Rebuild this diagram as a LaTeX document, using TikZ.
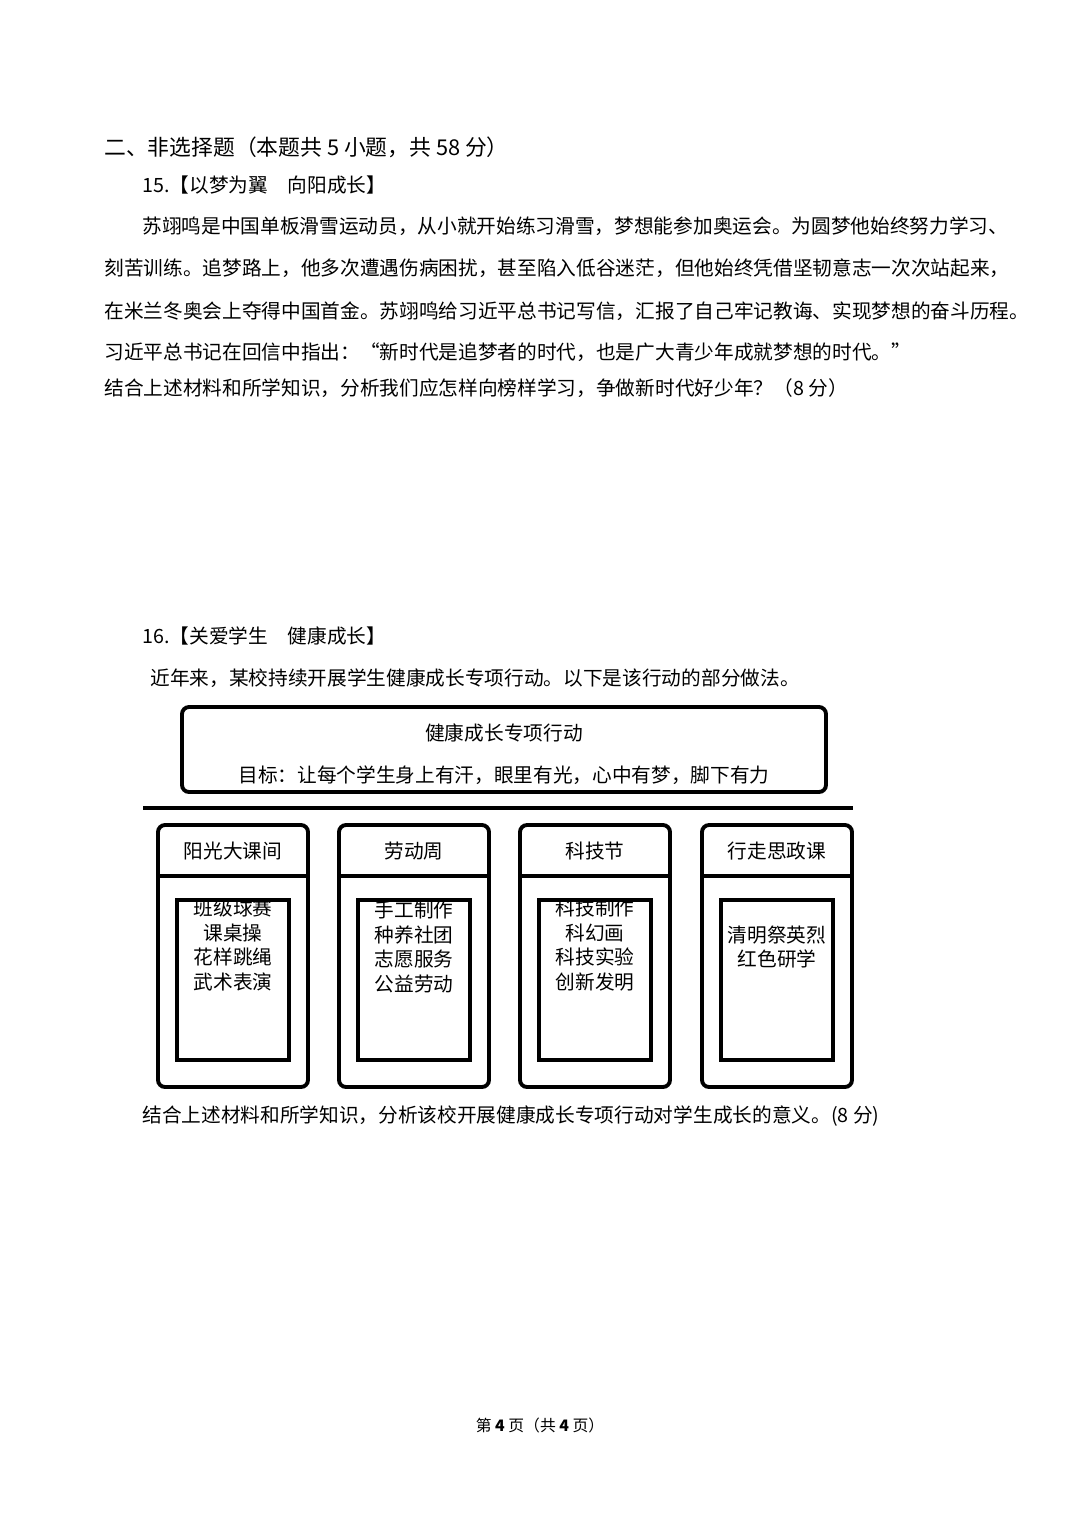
\documentclass[tikz,border=0pt]{standalone}
\usepackage{fontspec}
\setmainfont{Noto Sans CJK SC}
\usetikzlibrary{positioning}
\tikzset{
  txt/.style={anchor=west,inner sep=0pt,font=\fontsize{11.2}{13}\selectfont},
  ctxt/.style={inner sep=0pt,font=\fontsize{11.2}{13}\selectfont},
  outerbox/.style={draw,line width=2.2pt,rounded corners=4pt},
  innerbox/.style={draw,line width=1.8pt}
}
\begin{document}
\begin{tikzpicture}[x=0.02cm,y=-0.02cm]
  \useasboundingbox[fill=white] (0,0) rectangle (1080,1526);
  \node(head) at (104,147) [txt,font=\fontsize{12.4}{14}\selectfont] {二、非选择题（本题共 5 小题，共 58 分）};
  \node(q15) at (142,185) [txt] {15.【以梦为翼\quad 向阳成长】};
  \node(p1) at (142,226) [txt] {苏翊鸣是中国单板滑雪运动员，从小就开始练习滑雪，梦想能参加奥运会。为圆梦他始终努力学习、};
  \node(p2) at (104,268) [txt] {刻苦训练。追梦路上，他多次遭遇伤病困扰，甚至陷入低谷迷茫，但他始终凭借坚韧意志一次次站起来，};
  \node(p3) at (104,311) [txt] {在米兰冬奥会上夺得中国首金。苏翊鸣给习近平总书记写信，汇报了自己牢记教诲、实现梦想的奋斗历程。};
  \node(p4) at (104,352) [txt] {习近平总书记在回信中指出：“新时代是追梦者的时代，也是广大青少年成就梦想的时代。”};
  \node(p5) at (104,388) [txt] {结合上述材料和所学知识，分析我们应怎样向榜样学习，争做新时代好少年？（8 分）};
  \node(q16) at (142,636) [txt] {16.【关爱学生\quad 健康成长】};
  \node(intro) at (150,678) [txt] {近年来，某校持续开展学生健康成长专项行动。以下是该行动的部分做法。};
  % top box
  \draw[outerbox] (182,707) rectangle (826,792);
  \node(title) at (504,733) [ctxt] {健康成长专项行动};
  \node(goal) at (504,775) [ctxt] {目标：让每个学生身上有汗，眼里有光，心中有梦，脚下有力};
  \draw[line width=2.8pt] (143,808) -- (853,808);
  % columns
  \foreach \x/\name/\items/\ty in {158/阳光大课间/{班级球赛\\课桌操\\花样跳绳\\武术表演}/945,
      339/劳动周/{手工制作\\种养社团\\志愿服务\\公益劳动}/947,
      520/科技节/{科技制作\\科幻画\\科技实验\\创新发明}/945,
      702/行走思政课/{清明祭英烈\\红色研学}/947} {
    \draw[outerbox] (\x,825) rectangle ++(150,262);
    \draw[line width=2.2pt] (\x,876) -- ++(150,0);
    \node at (\x+75,851) [ctxt] {\name};
    \draw[innerbox] (\x+19,900) rectangle ++(112,160);
    \node at (\x+75,\ty) [ctxt,align=center,font=\fontsize{11.2}{14}\selectfont] {\items};
  }
  \node(q16b) at (142,1116) [txt] {结合上述材料和所学知识，分析该校开展健康成长专项行动对学生成长的意义。(8 分)};
  \node(foot) at (540,1425) [ctxt,font=\fontsize{9}{11}\selectfont] {第 \textbf{4} 页（共 \textbf{4} 页）};
\end{tikzpicture}
\end{document}
